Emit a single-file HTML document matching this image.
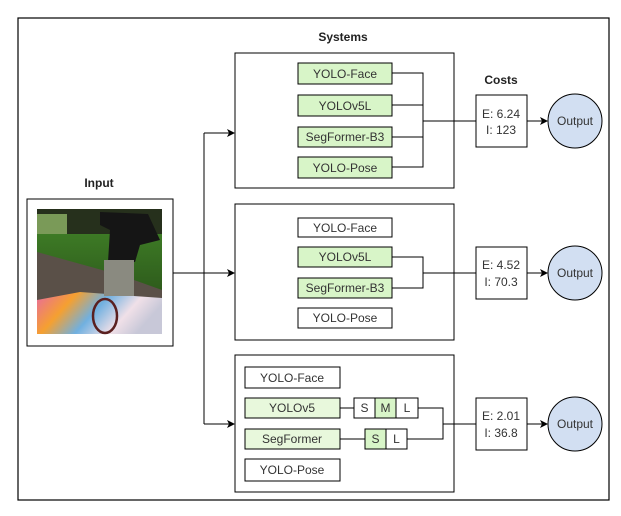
<!DOCTYPE html>
<html><head><style>
body{margin:0;background:#fff;}
svg text{font-family:"Liberation Sans",Arial,sans-serif;}
</style></head><body>
<svg width="621" height="511" viewBox="0 0 621 511" xmlns="http://www.w3.org/2000/svg">
<defs>
<marker id="a" markerWidth="8" markerHeight="8" refX="7" refY="4" orient="auto" markerUnits="userSpaceOnUse"><path d="M0,0 L8,4 L0,8 L2,4 z" fill="#000"/></marker>
<linearGradient id="tarp" x1="0" y1="0" x2="1" y2="0.3"><stop offset="0" stop-color="#e86aa0"/><stop offset="0.3" stop-color="#f5a030"/><stop offset="0.55" stop-color="#70b0e0"/><stop offset="0.8" stop-color="#f0e0e8"/><stop offset="1" stop-color="#c8c8d8"/></linearGradient>
<linearGradient id="grass" x1="0" y1="0" x2="0" y2="1"><stop offset="0" stop-color="#3d7a25"/><stop offset="1" stop-color="#2e5c1c"/></linearGradient>
</defs>
<rect x="18" y="18" width="591" height="482" fill="none" stroke="#000" stroke-width="1.2"/>
<text x="343" y="41" font-size="12" font-weight="bold" text-anchor="middle" fill="#222">Systems</text>
<text x="99" y="187" font-size="12" font-weight="bold" text-anchor="middle" fill="#222">Input</text>
<text x="501" y="84" font-size="12" font-weight="bold" text-anchor="middle" fill="#222">Costs</text>
<!-- input -->
<rect x="27" y="199" width="146" height="147" fill="#fff" stroke="#000"/>
<g>
<rect x="37" y="209" width="125" height="125" fill="#5a5048"/>
<rect x="37" y="209" width="125" height="28" fill="#26301c"/>
<rect x="37" y="214" width="30" height="22" fill="#7a9a58"/>
<polygon points="37,234 162,234 162,290 120,275 37,252" fill="url(#grass)"/>
<polygon points="37,300 80,292 162,298 162,334 37,334" fill="url(#tarp)"/>
<path d="M100,212 L148,214 L160,240 L140,245 L135,262 L108,262 L110,230 L100,225 z" fill="#151515"/>
<rect x="104" y="260" width="30" height="36" fill="#8a8a80"/>
<ellipse cx="105" cy="316" rx="12" ry="17" fill="none" stroke="#5a2020" stroke-width="2.5"/>
</g>
<!-- connectors from input -->
<line x1="173" y1="273" x2="204" y2="273" stroke="#000"/>
<line x1="204" y1="133" x2="204" y2="424" stroke="#000"/>
<line x1="204" y1="133" x2="234" y2="133" stroke="#000" marker-end="url(#a)"/>
<line x1="204" y1="273" x2="234" y2="273" stroke="#000" marker-end="url(#a)"/>
<line x1="204" y1="424" x2="234" y2="424" stroke="#000" marker-end="url(#a)"/>
<g font-size="12" text-anchor="middle" fill="#333">
<!-- system 1 -->
<rect x="235" y="53" width="219" height="135" fill="#fff" stroke="#000"/>
<rect x="298" y="63" width="94" height="21" fill="#d8f5c8" stroke="#000"/><text x="345" y="78">YOLO-Face</text>
<rect x="298" y="95" width="94" height="21" fill="#d8f5c8" stroke="#000"/><text x="345" y="110">YOLOv5L</text>
<rect x="298" y="127" width="94" height="20" fill="#d8f5c8" stroke="#000"/><text x="345" y="141">SegFormer-B3</text>
<rect x="298" y="157" width="94" height="21" fill="#d8f5c8" stroke="#000"/><text x="345" y="172">YOLO-Pose</text>
<path d="M392,73 H423 V167 H392 M392,105 H423 M392,137 H423 M423,121 H476" fill="none" stroke="#000"/>
<rect x="476" y="95" width="51" height="52" fill="#fff" stroke="#000"/>
<text x="501" y="118">E: 6.24</text><text x="501" y="134">I: 123</text>
<line x1="527" y1="121" x2="547" y2="121" stroke="#000" marker-end="url(#a)"/>
<circle cx="575" cy="121" r="27" fill="#d2dff2" stroke="#000"/><text x="575" y="125">Output</text>
<!-- system 2 -->
<rect x="235" y="204" width="219" height="136" fill="#fff" stroke="#000"/>
<rect x="298" y="218" width="94" height="19" fill="#fff" stroke="#000"/><text x="345" y="232">YOLO-Face</text>
<rect x="298" y="247" width="94" height="20" fill="#d8f5c8" stroke="#000"/><text x="345" y="261">YOLOv5L</text>
<rect x="298" y="278" width="94" height="20" fill="#d8f5c8" stroke="#000"/><text x="345" y="292">SegFormer-B3</text>
<rect x="298" y="308" width="94" height="20" fill="#fff" stroke="#000"/><text x="345" y="322">YOLO-Pose</text>
<path d="M392,257 H423 V288 H392 M423,273 H476" fill="none" stroke="#000"/>
<rect x="476" y="247" width="51" height="52" fill="#fff" stroke="#000"/>
<text x="501" y="269">E: 4.52</text><text x="501" y="286">I: 70.3</text>
<line x1="527" y1="273" x2="547" y2="273" stroke="#000" marker-end="url(#a)"/>
<circle cx="575" cy="273" r="27" fill="#d2dff2" stroke="#000"/><text x="575" y="277">Output</text>
<!-- system 3 -->
<rect x="235" y="355" width="219" height="137" fill="#fff" stroke="#000"/>
<rect x="245" y="367" width="95" height="21" fill="#fff" stroke="#000"/><text x="292" y="382">YOLO-Face</text>
<rect x="245" y="398" width="95" height="20" fill="#e8f8dc" stroke="#000"/><text x="292" y="412">YOLOv5</text>
<rect x="245" y="429" width="95" height="20" fill="#e8f8dc" stroke="#000"/><text x="292" y="443">SegFormer</text>
<rect x="245" y="459" width="95" height="22" fill="#fff" stroke="#000"/><text x="292" y="474">YOLO-Pose</text>
<rect x="354" y="398" width="64" height="20" fill="#fff" stroke="#000"/>
<rect x="375" y="398" width="21" height="20" fill="#d8f5c8" stroke="#000"/>
<text x="364.5" y="412">S</text><text x="385.5" y="412">M</text><text x="407" y="412">L</text>
<rect x="365" y="429" width="42" height="20" fill="#fff" stroke="#000"/>
<rect x="365" y="429" width="21" height="20" fill="#d8f5c8" stroke="#000"/>
<text x="375.5" y="443">S</text><text x="396.5" y="443">L</text>
<path d="M340,408 H354 M340,439 H365 M418,408 H443 V439 H407 M443,424 H476" fill="none" stroke="#000"/>
<rect x="476" y="398" width="51" height="52" fill="#fff" stroke="#000"/>
<text x="501" y="420">E: 2.01</text><text x="501" y="437">I: 36.8</text>
<line x1="527" y1="424" x2="547" y2="424" stroke="#000" marker-end="url(#a)"/>
<circle cx="575" cy="424" r="27" fill="#d2dff2" stroke="#000"/><text x="575" y="428">Output</text>
</g>
</svg>
</body></html>
